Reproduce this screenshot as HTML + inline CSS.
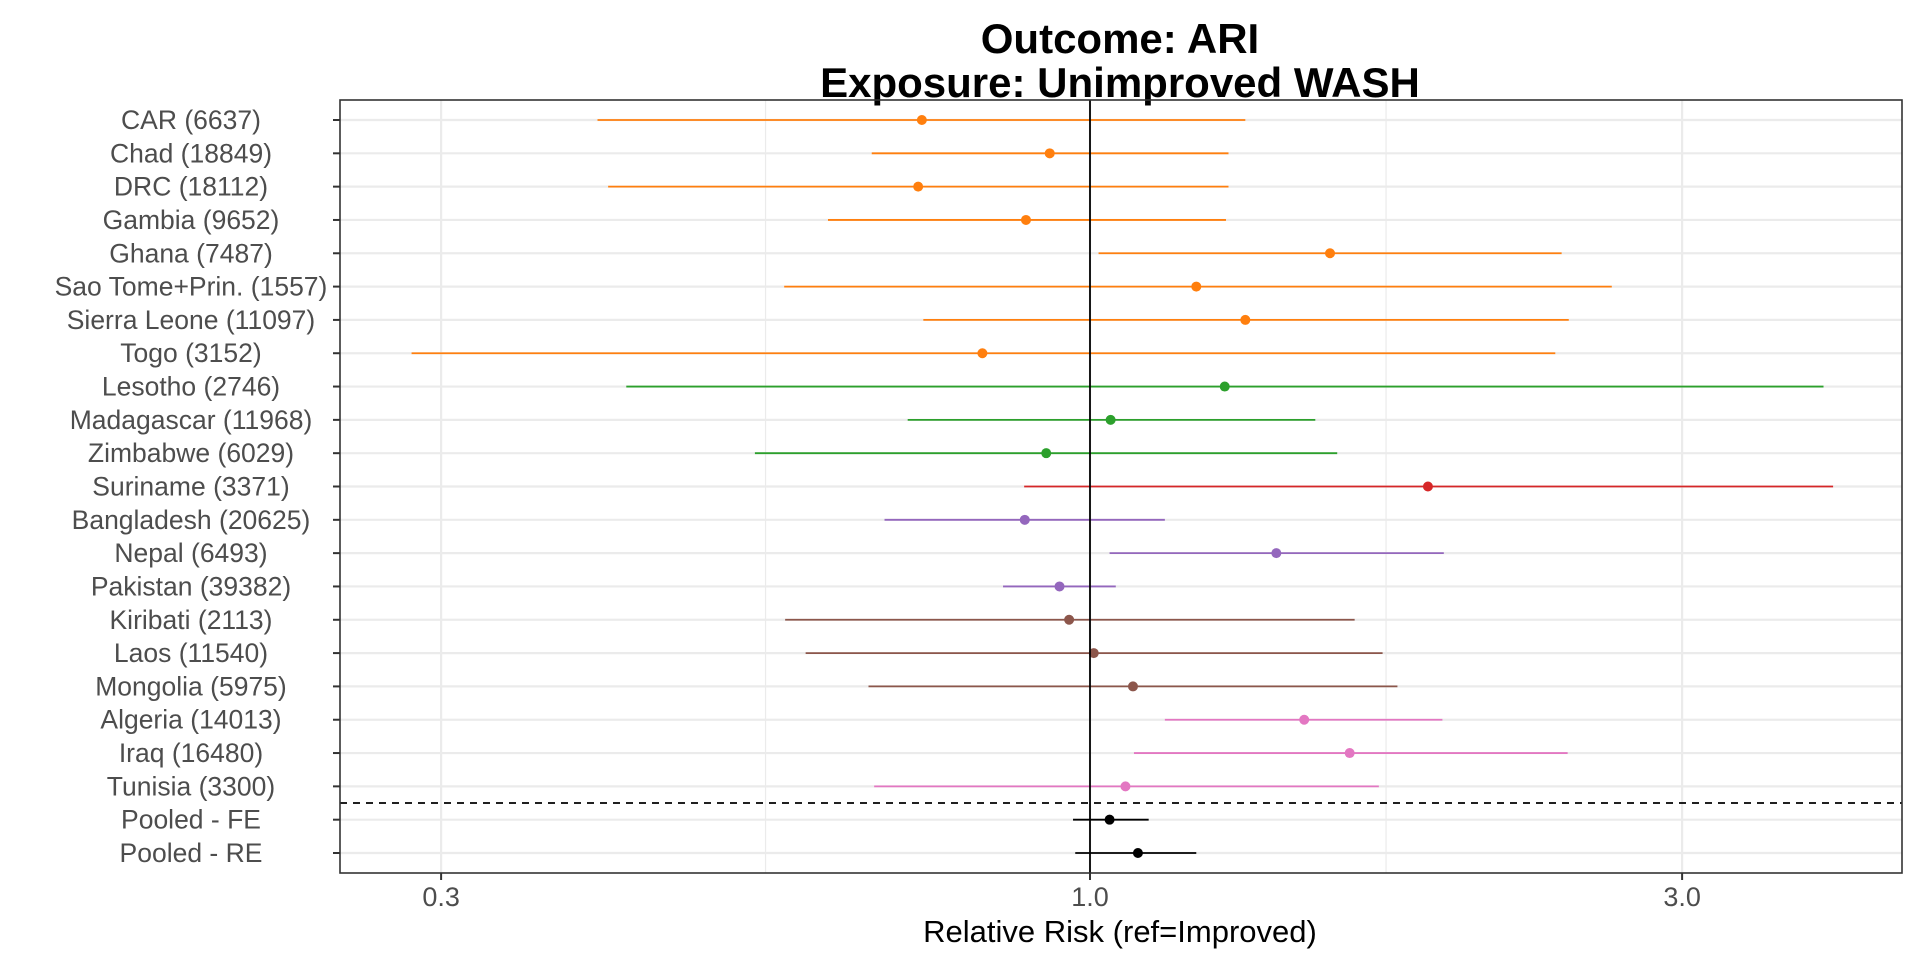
<!DOCTYPE html>
<html><head><meta charset="utf-8"><style>
body{margin:0;background:#fff;font-family:"Liberation Sans",sans-serif;}
</style></head><body>
<svg id="chart" width="1920" height="960" xmlns="http://www.w3.org/2000/svg">
<rect width="1920" height="960" fill="#fff"/>
<text x="1120" y="53" text-anchor="middle" font-size="42" font-weight="bold" font-family="Liberation Sans">Outcome: ARI</text>
<text x="1120" y="97" text-anchor="middle" font-size="42" font-weight="bold" font-family="Liberation Sans">Exposure: Unimproved WASH</text>
<g id="grid"></g><g id="marks"></g><g id="axes"></g>
<text x="1120" y="942" text-anchor="middle" font-size="31" font-family="Liberation Sans">Relative Risk (ref=Improved)</text>
</svg>
<script>
const labels=["CAR (6637)","Chad (18849)","DRC (18112)","Gambia (9652)","Ghana (7487)","Sao Tome+Prin. (1557)","Sierra Leone (11097)","Togo (3152)","Lesotho (2746)","Madagascar (11968)","Zimbabwe (6029)","Suriname (3371)","Bangladesh (20625)","Nepal (6493)","Pakistan (39382)","Kiribati (2113)","Laos (11540)","Mongolia (5975)","Algeria (14013)","Iraq (16480)","Tunisia (3300)","Pooled - FE","Pooled - RE"];
const groups=["wa","wa","wa","wa","wa","wa","wa","wa","sa","sa","sa","la","as","as","as","ea","ea","ea","me","me","me","pool","pool"];
const est=[0.732,0.928,0.727,0.888,1.561,1.218,1.334,0.819,1.284,1.039,0.922,1.872,0.886,1.413,0.945,0.962,1.007,1.083,1.488,1.619,1.068,1.037,1.093];
const lower=[0.401,0.667,0.409,0.615,1.016,0.567,0.734,0.284,0.423,0.713,0.537,0.885,0.683,1.037,0.851,0.568,0.590,0.663,1.149,1.085,0.670,0.969,0.973];
const upper=[1.334,1.293,1.293,1.287,2.399,2.633,2.431,2.371,3.90,1.519,1.582,3.97,1.149,1.928,1.049,1.634,1.721,1.769,1.923,2.426,1.709,1.115,1.218];
const xTicks=[0.3,1.0,3.0];
const xTickLabels=["0.3","1.0","3.0"];
const xMinor=[0.5477,1.7321];
const colors={wa:"#ff7f0e",sa:"#2ca02c",la:"#d62728",as:"#9467bd",ea:"#8c564b",me:"#e377c2",pool:"#000000"};
const L=340,R=1902,T=100,B=873;
const X=v=>1090+Math.log10(v)*1241;
const Y=i=>120+i*(853-120)/22;
const NS="http://www.w3.org/2000/svg";
function mk(p,tag,at){const e=document.createElementNS(NS,tag);for(const k in at)e.setAttribute(k,at[k]);p.appendChild(e);return e;}
const grid=document.getElementById('grid'),marks=document.getElementById('marks'),axes=document.getElementById('axes');
xMinor.forEach(v=>{const g=mk(grid,'line',{x1:X(v),x2:X(v),y1:T,y2:B,stroke:'#ebebeb','stroke-width':1.2});

});
xTicks.forEach((v,i)=>{const g=mk(grid,'line',{x1:X(v),x2:X(v),y1:T,y2:B,stroke:'#ebebeb','stroke-width':2.2});


const t=mk(axes,'line',{x1:X(v),x2:X(v),y1:B,y2:B+7,stroke:'#333','stroke-width':2});


const tx=mk(axes,'text',{x:X(v),y:B+33,'text-anchor':'middle','font-size':27,fill:'#4d4d4d','font-family':'Liberation Sans'});
tx.textContent=xTickLabels[i];

});
labels.forEach((lab,i)=>{const y=Y(i);
const g=mk(grid,'line',{x1:L,x2:R,y1:y,y2:y,stroke:'#ebebeb','stroke-width':2.2});


const c=colors[groups[i]];
const ln=mk(marks,'line',{x1:X(lower[i]),x2:X(upper[i]),y1:y,y2:y,stroke:c,'stroke-width':1.8});


const pt=mk(marks,'circle',{cx:X(est[i]),cy:y,r:5,fill:c});


const t=mk(axes,'line',{x1:L-7,x2:L,y1:y,y2:y,stroke:'#333','stroke-width':2});


const tx=mk(axes,'text',{x:191,y:y+9,'text-anchor':'middle','font-size':26.5,fill:'#4d4d4d','font-family':'Liberation Sans'});
tx.textContent=lab;

});
const d=mk(marks,'line',{x1:L,x2:R,y1:(Y(20)+Y(21))/2,y2:(Y(20)+Y(21))/2,stroke:'#000','stroke-width':1.8,'stroke-dasharray':'7 6'});


const v1=mk(marks,'line',{x1:X(1),x2:X(1),y1:T,y2:B,stroke:'#000','stroke-width':1.8});


const fr=mk(axes,'rect',{x:L,y:T,width:R-L,height:B-T,fill:'none',stroke:'#333','stroke-width':1.6});


</script>
</body></html>
